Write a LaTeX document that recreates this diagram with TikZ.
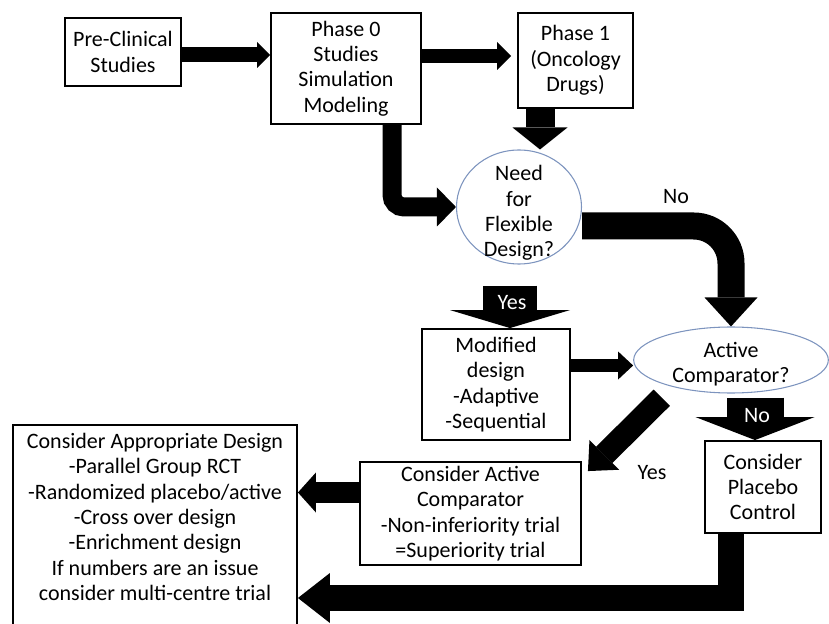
\documentclass[tikz,border=0pt]{standalone}
\usepackage{fontspec}
\setmainfont{Carlito}
\usetikzlibrary{arrows.meta,shapes.geometric}
\definecolor{ringblue}{RGB}{125,148,190}
\begin{document}
\begin{tikzpicture}[x=0.75pt,y=0.75pt,yscale=-1,xscale=1,
	every node/.style={font=\fontsize{16.5}{19}\selectfont, align=center, inner sep=0pt},
	stage/.style={draw, line width=1.4pt},
	query/.style={draw=ringblue, line width=0.8pt, ellipse},
	blk/.style n args={3}{line width=#1, -{Triangle[length=#2, width=#3, line width=0pt]}},
	onarrow/.style={text=white}]
		\useasboundingbox (0,0) rectangle (829,624);
		\node [stage, minimum width=87pt, minimum height=51pt] (pre) at (123,52) {Pre-Clinical\\Studies};
		\node [stage, minimum width=112.5pt, minimum height=83.25pt] (ph0) at (346,68.5) {Phase 0\\Studies\\Simulation\\Modeling};
		\node [stage, minimum width=86.25pt, minimum height=71.25pt] (ph1) at (575.5,60.5) {Phase 1\\(Oncology\\Drugs)};
		\node [query, minimum width=93.75pt, minimum height=85.5pt] (need) at (519,207) {};
		\node (needtxt) at (519,213) {Need\\for\\Flexible\\Design?};
		\node [stage, minimum width=111pt, minimum height=83.25pt] (mod) at (496,384.5) {Modified\\design\\-Adaptive\\-Sequential};
		\node [query, minimum width=146pt, minimum height=49.5pt] (act) at (731,360) {};
		\node (acttxt) at (731,364) {Active\\Comparator?};
		\node [stage, minimum width=87pt, minimum height=69pt] (plc) at (763,487) {Consider\\Placebo\\Control};
		\node [stage, minimum width=165.75pt, minimum height=77.25pt] (cac) at (470.5,513.5) {Consider Active\\Comparator\\-Non-inferiority trial\\=Superiority trial};
		\node [stage, minimum width=213pt, minimum height=161.25pt] (appr) at (155,532.5) {};
		\node (apprtxt) at (155,517) {Consider Appropriate Design\\-Parallel Group RCT\\-Randomized placebo/active\\-Cross over design\\-Enrichment design\\If numbers are an issue\\consider multi-centre trial};
		\draw [blk={11.25pt}{9.75pt}{19.5pt}] (pre.east |- 0,55) -- (ph0.west |- 0,55);
		\draw [blk={10.5pt}{10.5pt}{21pt}, shorten >=4.5pt] (ph0.east |- 0,56) -- (ph1.west |- 0,56);
		\draw [blk={21.75pt}{16.5pt}{41.25pt}] (ph1.south -| 540,0) -- (540,0 |- need.north);
		\draw [blk={14.25pt}{14.25pt}{29.25pt}, rounded corners=9pt] (ph0.south -| 392,0) |- (need.west);
		\draw [blk={20.25pt}{21.75pt}{39.75pt}, rounded corners=28pt] (need.east |- 0,226) -| (act.north);
		\node (no1) at (676,197) {No};
		\draw [blk={40.5pt}{13.5pt}{90pt}, shorten <=15.75pt] (need.south -| 510,0) -- (mod.north -| 510,0);
		\node [onarrow] (yes1) at (512,303) {Yes};
		\draw [blk={9.75pt}{11.25pt}{21pt}] (mod.east |- 0,365.5) -- (act.west |- 0,365.5);
		\draw [blk={42.75pt}{17.25pt}{89.25pt}, shorten <=3pt] (act.south -| 755,0) -- (plc.north -| 755,0);
		\node [onarrow] (no2) at (757,416) {No};
		\draw [blk={17.25pt}{17.25pt}{31.5pt}] ([shift={(0,14)}]act.south west) -- ([shift={(6,10)}]cac.north east);
		\node (yes2) at (652,473) {Yes};
		\draw [blk={15.75pt}{13.5pt}{30pt}] (cac.west |- 0,492.5) -- (appr.east |- 0,492.5);
		\draw [blk={19.5pt}{24pt}{37.5pt}] (plc.south -| 731,0) |- (appr.east |- 0,598);
\end{tikzpicture}
\end{document}
